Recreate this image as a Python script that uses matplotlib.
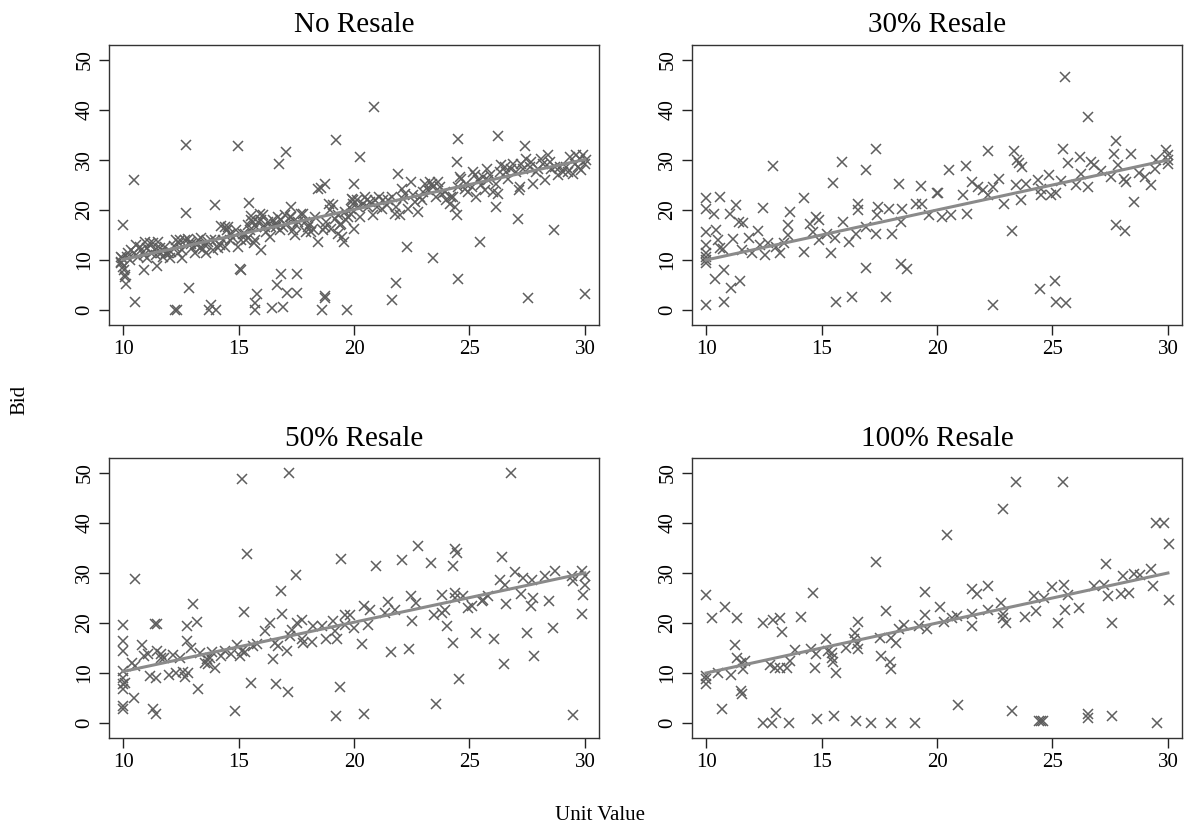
import numpy as np
import matplotlib.pyplot as plt

plt.rcParams['font.family'] = ['Liberation Serif', 'DejaVu Serif']

# ---- data ----
titles = ["No Resale", "30% Resale", "50% Resale", "100% Resale"]
x_ticks = [10, 15, 20, 25, 30]
y_ticks = [0, 10, 20, 30, 40, 50]

# No Resale
no_x = [10, 10.48, 10.5, 10.14, 10.07, 12.71, 12.71, 12.84, 12.24, 12.35, 13.97, 13.8,
        13.7, 14.04, 14.98, 15.12, 15.05, 15.44, 15.7, 15.7, 15.82, 15.99, 16.43, 16.67,
        16.83, 16.93, 16.74, 17.07, 17.11, 17.53, 17.55, 17.26, 18.44, 18.61, 18.76, 18.76,
        19.24, 19.71, 19.57,
        9.9, 9.93, 10, 10.04, 10.1, 10.22, 10.36, 10.58, 10.65, 10.79, 10.91, 10.97,
        11.05, 11.15, 11.23, 11.37, 11.49, 11.52, 11.59, 11.73, 11.88, 12.02, 12.21, 12.31,
        12.41, 12.53, 12.56, 12.67, 12.89, 12.99, 13.1, 13.25, 13.39, 13.46, 13.61, 13.68,
        13.82, 13.9, 14.1, 14.26, 14.33, 14.4, 14.52, 14.62, 14.76, 14.9, 14.98, 15.2,
        15.34, 15.41, 15.48, 15.56, 15.62, 15.66, 15.77, 15.92, 15.99, 16.21, 16.28, 16.35,
        16.42, 16.57, 16.71, 16.78, 16.93, 17.0, 17.21, 17.36, 17.43, 17.5, 17.72, 17.86,
        18.0, 18.15, 18.29, 18.44, 18.55, 18.73, 18.66, 18.8, 18.9, 19.02, 19.09, 19.16,
        19.31, 19.38, 19.48, 19.6, 19.74, 19.85, 19.96,
        9.9, 9.97, 10.17, 10.32, 10.46, 10.75, 10.89, 11.04, 11.3, 11.44, 11.66, 11.8,
        11.95, 12.09, 12.38, 12.45, 12.81, 12.93, 13.18, 13.32, 13.54, 13.97, 14.18, 14.4,
        14.54, 14.65, 15.12, 15.27, 15.41, 15.56, 15.7, 15.85, 16.06, 16.13, 16.5, 16.64,
        16.85, 17.07, 17.29, 17.58, 17.79, 17.94, 18.08, 18.22, 18.73, 18.95, 19.31, 19.45,
        19.67, 19.88,
        20.86, 20.26, 20.0, 20.0, 21.92, 22.31, 21.82, 21.63, 23.4, 24.51, 24.47, 24.44,
        24.51, 25.45, 26.24, 26.14, 27.1, 27.39, 27.15, 27.54, 28.65, 29.99,
        19.97, 20.12, 20.26, 20.4, 20.55, 20.62, 20.81, 20.91, 21.1, 21.2, 21.41, 21.63,
        21.77, 21.99, 22.1, 22.2, 22.35, 22.45, 22.64, 22.78, 22.93, 23.07, 23.21, 23.28,
        23.43, 23.55, 23.65, 23.79, 23.99, 24.15, 24.22, 24.37, 24.51, 24.65, 24.8, 24.94,
        25.16, 25.27, 25.37, 25.52, 25.66, 25.76, 25.88, 26.02, 26.17, 26.24, 26.38, 26.53,
        26.67, 26.89, 27.03, 27.18, 27.32, 27.46, 27.61, 27.75, 27.9, 28.11, 28.26, 28.4,
        28.55, 28.69, 28.84, 29.05, 29.2, 29.34, 29.48, 29.63, 29.77, 29.91, 29.99, 29.83,
        30.05,
        19.9, 20.19, 20.48, 20.7, 20.98, 21.27, 21.48, 21.84, 22.13, 22.56, 22.85, 23.0,
        23.36, 23.72, 23.93, 24.29, 24.58, 24.87, 25.09, 25.23, 25.59, 25.81, 26.31, 26.6,
        26.82, 27.25, 27.68, 27.97, 28.18, 28.47, 28.9, 29.26, 29.55, 29.7]
no_y = [17, 26, 1.7, 5.2, 7, 33.1, 19.5, 4.4, 0, 0, 21, 1.1,
        0, 0, 32.8, 8, 8.2, 21.5, 1.4, 0, 3.3, 12, 0.4, 5,
        7.2, 0.7, 29.2, 31.6, 3.4, 7.2, 3.4, 20.7, 13.6, 0, 2.9, 2.4,
        34, 0, 13.7,
        10.7, 9.7, 8.7, 8, 6.7, 11.4, 12, 13, 10.7, 12, 8, 13.7,
        10.4, 13.4, 11.4, 12, 8.8, 13.7, 12.4, 10.7, 11.4, 10.4, 12.8, 14,
        13.4, 10.4, 12, 14, 13.7, 12.4, 11.4, 14, 14.4, 12.2, 11.4, 13.7,
        14, 12, 12.4, 16.8, 14, 12.7, 16, 15.3, 14.4, 16, 12.7, 15.3,
        14, 14.4, 16, 18.8, 17.7, 13.4, 16.7, 19.3, 18, 15.7, 17.7, 14.7,
        16.7, 17.3, 18.7, 16, 16.7, 19, 18.7, 16, 15, 17, 19.3, 17.7,
        16.7, 15.7, 18.7, 24.3, 24.5, 25.2, 16, 17.7, 21.3, 16.3, 21, 18.3,
        15.3, 17, 14.7, 19.7, 18.7, 20.3, 22,
        9.5, 10.4, 10.7, 10, 11.4, 12.7, 11, 12.4, 13.4, 11, 11.4, 12.7,
        11.4, 11.7, 11.4, 14, 14.2, 13.2, 13, 12.4, 13, 14, 13, 16.7,
        16.7, 14, 14, 15.3, 17, 18, 14, 17.7, 19, 16.7, 18, 16.7,
        18, 17, 18.7, 17.7, 19.3, 15.7, 17.3, 16.3, 16.7, 20, 19, 17.3,
        18, 19.3,
        40.7, 30.6, 25.2, 16.3, 27.3, 12.6, 5.5, 2.1, 10.4, 34.3, 29.6, 19,
        6.2, 13.7, 34.8, 20.7, 18.3, 32.8, 24.1, 2.5, 16.1, 3.3,
        21.3, 22, 18.7, 21.3, 22, 20.7, 19, 22, 22.7, 20.3, 21, 22.7,
        19.3, 19, 24.3, 23.3, 20.3, 25.6, 21.7, 19.7, 22, 25.3, 24, 25.6,
        24.7, 22.7, 25.6, 23.3, 22, 21.3, 22.7, 20.7, 24.7, 26.3, 24.3, 23.7,
        27.6, 22.7, 26, 25, 24, 28.3, 27, 23.7, 25.3, 23.3, 29, 28.6,
        26.3, 29.3, 27.6, 24.7, 28.3, 30.3, 28.6, 25.3, 27.6, 30.3, 26, 31,
        28.3, 28.6, 27, 27.6, 28.6, 30.6, 27.3, 31, 30.3, 31, 29.3, 28,
        30,
        22.3, 20.7, 22.7, 21.7, 20.7, 22, 22, 20.7, 22.3, 23, 22.7, 23.7,
        25.3, 24.7, 23.7, 22.7, 26.6, 25.3, 24.7, 27, 26.6, 26, 27.6, 27.6,
        28.3, 29.3, 29.6, 28.3, 29.3, 29.6, 28.6, 27.6, 29.3, 28.6]

# 30% Resale
r30_x = [10, 10, 10, 10, 10, 10, 10, 10, 10, 10.34, 10.43, 10.6,
         10.39, 10.53, 10.6, 10.75, 10.77, 10.79, 11.03, 11.1, 11.3, 11.15, 11.44, 11.49,
         11.6, 11.54, 11.87, 11.97, 12.25, 12.32, 12.47, 12.54, 12.68, 12.9, 13.01, 13.2,
         13.36, 13.54, 13.54, 13.64, 14.22, 14.22, 14.5, 14.65, 14.76, 14.88, 14.9, 15.22,
         15.42, 15.48, 15.62, 15.58, 15.88, 15.91, 16.17, 16.34, 16.48, 16.56, 16.56, 16.92,
         16.92, 16.94, 17.35, 17.37, 17.46, 17.42, 17.78, 17.9, 18.03, 18.35, 18.46, 18.7,
         18.42, 18.5, 19.07, 19.31, 19.35, 19.64, 20.0,
         20.06, 20.2, 20.53, 20.6, 21.26, 21.11, 21.3, 21.5, 21.76, 21.98, 22.2, 22.22,
         22.41, 22.43, 22.7, 22.89, 23.24, 23.35, 23.47, 23.53, 23.67, 23.42, 23.64, 23.86,
         24.36, 24.5, 24.5, 24.48, 24.87, 24.94, 25.12, 25.16, 25.16, 25.35, 25.45, 25.56,
         25.59, 25.66, 26.03, 26.21, 26.24, 26.56, 26.56, 26.68, 26.82, 27.11, 27.54, 27.66,
         27.76, 27.76, 27.83, 28.12, 28.09, 28.19, 28.41, 28.53, 28.73, 28.99, 29.25, 29.42,
         29.49, 29.93, 30.0, 30.0, 30.0]
r30_y = [22.5, 20.3, 15.7, 13, 11.4, 10.7, 10.1, 9.4, 1.1, 19.2, 16.1, 22.7,
         6.2, 14, 12.4, 12.2, 8, 1.7, 19.2, 4.4, 21.1, 14.2, 17.7, 5.9,
         17.5, 12, 14.4, 11.4, 15.9, 13, 20.5, 11, 13.4, 28.8, 12.7, 11.4,
         13.4, 17, 15, 19.7, 22.5, 11.7, 17.2, 15.7, 18.7, 18, 14, 15.3,
         11.4, 25.4, 1.7, 14.4, 29.6, 17.7, 13.7, 2.7, 15.3, 21.3, 20, 28,
         8.5, 16.7, 15.3, 32.3, 20.7, 19, 2.7, 20.3, 15.3, 25.3, 9.2, 8.2,
         17.7, 20.3, 21.3, 24.8, 21.3, 19, 23.5,
         23.5, 18.7, 28.1, 19, 28.8, 23, 19.3, 25.6, 24.7, 24, 31.8, 23,
         24.7, 1.1, 26.3, 21.3, 15.9, 31.8, 30, 29.4, 28.6, 25, 22.1, 25.3,
         26, 24.3, 23, 4.2, 27, 23, 5.9, 1.7, 23.5, 25.8, 32.3, 46.7,
         1.4, 29.4, 25, 30.6, 27.3, 38.7, 24.7, 29.6, 29, 27.8, 26.6, 31.3,
         33.8, 17, 29, 15.9, 26.3, 25.6, 31.3, 21.7, 27.4, 26.6, 25, 28.3,
         30.1, 32, 30, 29.3, 31]

# 50% Resale
r50_x = [10, 10, 10, 10, 10, 10, 10, 10.1, 10, 10, 10.5, 10.48,
         10.4, 10.53, 10.84, 10.9, 11.08, 11.15, 11.3, 11.44, 11.44, 11.37, 11.47, 11.49,
         11.63, 11.78, 12.0, 12.17, 12.31, 12.45, 12.6, 12.67, 12.81, 12.78, 12.78, 12.93,
         13.03, 13.18, 13.25, 13.32, 13.54, 13.65, 13.75, 13.83, 14.0, 14.4, 14.69, 14.84,
         14.94, 15.05, 15.15, 15.24, 15.38, 15.27, 15.52, 15.63, 16.14, 16.35, 16.5, 16.57,
         16.64, 16.72, 16.83, 16.9, 17.08, 17.15, 17.2, 17.22, 17.47, 17.51, 17.73, 17.8,
         18.16, 18.23, 18.77, 18.6, 19.1, 19.18, 19.27, 19.24, 19.4, 19.45, 19.6, 20.0,
         20.33, 20.44, 20.44, 20.68, 20.61, 20.94, 21.48, 21.62, 21.77, 22.1, 22.38, 22.46,
         22.52, 22.7, 22.78, 23.35, 23.47, 23.57, 23.79, 23.94, 24.01, 24.27, 24.3, 24.37,
         24.48, 24.37, 24.56, 24.74, 24.95, 25.28, 25.53, 25.81, 26.07, 26.42, 26.32, 26.49,
         26.6, 26.53, 26.79, 26.97, 27.23, 27.33, 27.49, 27.66, 27.79, 27.76, 28.27, 28.45,
         28.6, 28.7, 29.42, 29.47, 29.5, 29.86, 30.0, 30.0, 29.93, 29.86,
         11.66, 13.68, 14.26, 15.13, 15.78, 17.3, 17.73, 19.6, 19.82, 21.34, 23.79, 24.37,
         25.09, 25.6, 27.69]
r50_y = [19.6, 16.4, 14.4, 10.4, 9.1, 7.8, 6.9, 8.1, 3.5, 2.9, 28.9, 5.1,
         12.1, 11.4, 15.6, 13.4, 13.8, 9.4, 2.8, 9.1, 1.8, 19.9, 19.9, 14.4,
         13.1, 13.1, 9.6, 13.6, 10, 13.1, 10.2, 9.3, 10.1, 19.4, 16.4, 15.1,
         23.9, 20.3, 6.9, 14.1, 12.1, 12.8, 13.1, 14.2, 11.1, 14.4, 13.8, 2.5,
         15.6, 13.4, 48.7, 22.3, 33.9, 14.2, 8.1, 15.4, 18.4, 20.1, 12.8, 16.1,
         7.9, 15.4, 26.4, 21.9, 14.4, 6.3, 50, 17.4, 29.6, 20.1, 20.6, 16.1,
         16.2, 19.4, 16.8, 19.4, 20.4, 18.4, 16.8, 1.5, 7.2, 32.9, 21.7, 19.1,
         15.9, 1.8, 23.5, 22.7, 19.7, 31.4, 24.2, 14.2, 22.7, 32.7, 14.8, 25.4,
         20.4, 24.1, 35.4, 32.0, 21.7, 3.9, 25.7, 22.7, 19.4, 16.1, 31.4, 34.9,
         34.0, 25.1, 8.9, 25.5, 23.1, 18.1, 24.4, 25.4, 16.9, 33.2, 28.7, 11.8,
         23.9, 27.7, 50, 30.2, 25.9, 29.1, 18.1, 23.4, 13.4, 25.1, 29.4, 24.5,
         19, 30.4, 29.4, 1.7, 28.4, 30.4, 29.4, 27.7, 25.6, 21.9,
         13.8, 11.8, 13.4, 14.4, 15.8, 18.7, 16.8, 19.7, 21.7, 22.1, 22.1, 26.1,
         23.4, 24.7, 28.7]

# 100% Resale
r100_x = [10, 10.26, 10, 10, 10, 10.5, 10.8, 10.7, 11.07, 11.36, 11.24, 11.33,
          11.5, 11.62, 11.7, 11.5, 11.55, 12.45, 12.45, 12.85, 13.02, 12.9, 13.18, 13.3,
          12.78, 13.0, 13.2, 13.5, 13.57, 13.65, 13.86, 14.1, 14.54, 14.63, 14.7, 14.75,
          14.8, 15.18, 15.3, 15.45, 15.45, 15.48, 15.63, 15.56, 16.05, 16.4, 16.47, 16.54,
          16.6, 16.6, 16.5, 17.16, 17.35, 17.55, 17.58, 17.8, 17.96, 18.02, 18.0, 18.0,
          18.23, 18.35, 18.57, 19.05, 19.23, 19.48, 19.5, 19.58, 20.13, 20.3, 20.42, 20.66,
          20.88, 20.9, 21.5, 21.72, 21.53, 21.53, 22.2, 22.2, 22.84, 22.76, 22.84, 22.84,
          22.98, 23.23, 23.42, 23.82, 24.2, 24.28, 24.43, 24.5, 24.6, 24.65, 25.0, 25.22,
          25.44, 25.5, 25.54, 25.66, 26.16, 26.53, 26.55, 26.82, 27.25, 27.32, 27.4, 27.57,
          27.6, 28.05, 27.97, 28.33, 28.55, 28.77, 29.27, 29.35, 29.49, 29.83, 29.54, 30.03,
          30.03]
r100_y = [25.6, 21.1, 9.4, 7.8, 8.8, 10, 23.2, 2.9, 9.6, 21.1, 15.6, 13,
          12.1, 10.8, 12.4, 6.4, 5.8, 20.1, 0, 0, 2.1, 20.6, 21.1, 18.2,
          11.6, 11.1, 11.1, 11.1, 0, 12.4, 14.6, 21.2, 14.9, 26.1, 11.1, 13.8,
          0.8, 16.8, 14.4, 14.1, 13.1, 12.2, 10, 1.5, 15.1, 16.8, 18.1, 15.8,
          14.8, 20.2, 0.5, 0, 32.2, 17.1, 13.4, 22.5, 12.2, 10.8, 17.1, 0,
          16, 18.8, 19.7, 0, 19.4, 26.3, 21.6, 18.8, 23.2, 20.3, 37.7, 21.1,
          21.4, 3.7, 26.9, 25.9, 21.9, 19.5, 27.5, 22.7, 42.7, 24.1, 21.9, 21.1,
          20.1, 2.4, 48.1, 21.2, 25.4, 22.5, 0.5, 0.5, 0.5, 25.1, 27.3, 20.1,
          48.3, 27.7, 22.7, 25.7, 23.1, 1.8, 1.1, 27.5, 27.7, 31.9, 25.5, 1.5,
          20.1, 29.5, 25.9, 26.1, 29.9, 29.7, 30.9, 27.5, 40, 40, 0.1, 35.9,
          24.7]

# fitted lines (endpoints)
fit_x = [10, 30]
fit_no = [10.1, 30.1]
fit_30 = [10.0, 30.0]
fit_50 = [10.3, 30.0]
fit_100 = [10.0, 30.0]

panels = [(no_x, no_y, fit_no), (r30_x, r30_y, fit_30),
          (r50_x, r50_y, fit_50), (r100_x, r100_y, fit_100)]

fig = plt.figure(figsize=(11.87, 8.34), dpi=100)
W, H = 1187, 834
boxes = [(109, 45), (692, 45), (109, 458), (692, 458)]  # left, top in px

for (px, py, fy), title, (l, t) in zip(panels, titles, boxes):
    ax = fig.add_axes([l / W, 1 - (t + 280) / H, 490 / W, 280 / H])
    ax.plot(fit_x, fy, color='#8a8a8a', lw=2.2, zorder=3)
    ax.plot(px, py, 'x', color='#5e5e5e', ms=6.5, mew=1.1, zorder=2)
    ax.set_xlim(9.39, 30.61)
    ax.set_ylim(-3, 53)
    ax.set_xticks(x_ticks)
    ax.set_yticks(y_ticks)
    ax.set_yticklabels([str(v) for v in y_ticks], rotation=90, va='center')
    ax.tick_params(direction='out', length=7, width=1, labelsize=15, colors='#222222',
                   labelcolor='black', top=False, right=False)
    for s in ax.spines.values():
        s.set_color('#333333')
        s.set_linewidth(1.0)
    ax.set_title(title, fontsize=21, pad=9)

fig.text(20 / W, 1 - 400 / H, "Bid", rotation=90, ha='center', va='center', fontsize=15)
fig.text(600 / W, 1 - 815 / H, "Unit Value", ha='center', va='center', fontsize=15)

fig.savefig("out.png", dpi=100)
